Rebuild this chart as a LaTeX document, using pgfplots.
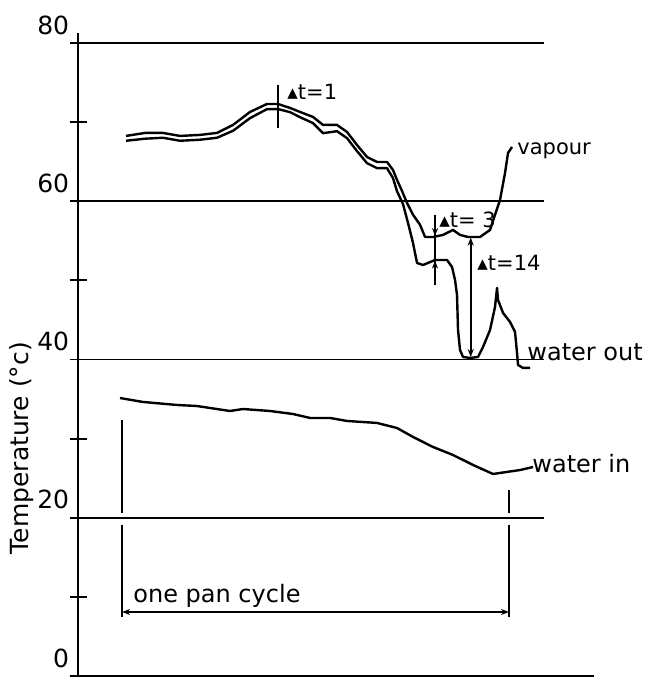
\documentclass[border=0pt]{standalone}
\usepackage{pgfplots}
\pgfplotsset{compat=1.18}
\usepackage{fontspec}
\setmainfont{DejaVu Sans}
\usetikzlibrary{arrows.meta}
\begin{document}
\begin{tikzpicture}
\begin{axis}[
  x=0.5pt, y=3.95625pt,
  xmin=78, xmax=594, ymin=0, ymax=81.3,
  clip=false,
  axis x line*=bottom, axis y line*=left,
  axis line style={line width=0.9pt, black},
  xtick=\empty,
  ytick={0,20,40,60,80},
  minor ytick={10,30,50,70},
  tick align=center,
  major tick length=8.5pt, minor tick length=8.5pt,
  every tick/.style={black, line width=0.9pt},
  /pgf/number format/assume math mode=true,
  yticklabel style={font=\fontsize{12.5}{14}\selectfont, anchor=south east, inner sep=0pt, yshift=4pt},
  ylabel={Temperature (°c)},
  ylabel style={font=\fontsize{12.5}{14}\selectfont, at={(axis description cs:-0.1085,0.354)}, anchor=center},
  cycle list={{black, solid, mark=none}},
]
% horizontal reference lines
\addplot[black, line width=0.9pt] coordinates {(78,80) (544,80)};
\addplot[black, line width=0.9pt] coordinates {(78,60) (544,60)};
\addplot[black, line width=0.9pt] coordinates {(78,40) (544,40)};
\addplot[black, line width=0.9pt] coordinates {(78,20) (544,20)};
% vapour
\addplot[black, line width=1.2pt, mark=none, line join=round] coordinates {
(126,68.25) (145,68.63) (163,68.63) (180,68.25) (200,68.38) (217,68.63)
(233,69.64) (250,71.28) (267,72.29) (278,72.29) (290,71.79) (300,71.28)
(313,70.65) (323,69.64) (337,69.64) (347,68.75) (357,67.11) (367,65.59)
(377,64.96) (387,64.96) (393,63.95) (397,62.69) (402,61.3) (407,59.78)
(413,58.29) (420,57.03) (425,55.48) (433,55.48) (443,55.74) (453,56.37)
(460,55.74) (468,55.48) (480,55.48) (490,56.37) (495,58.29) (500,60.16)
(505,63.57) (508,66.1) (512,66.86)
};
% water out
\addplot[black, line width=1.2pt, mark=none, line join=round] coordinates {
(126,67.64) (145,67.9) (163,68.02) (180,67.64) (200,67.77) (217,68.02)
(233,68.9) (250,70.5) (267,71.64) (278,71.64) (290,71.26) (300,70.62)
(313,69.87) (323,68.6) (337,68.85) (347,67.97) (357,66.33) (367,64.81)
(377,64.18) (387,64.18) (393,62.91) (397,61.27) (403,59.63) (408,57.25)
(413,54.72) (417,52.20) (423,51.94) (435,52.57) (447,52.57) (452,51.69)
(455,50.05) (457,48.15) (458,43.73) (460,41.20) (463,40.32) (470,40.19)
(478,40.32) (483,41.58) (490,43.73) (495,46.64) (497,49.04) (498,47.52)
(503,45.88) (510,44.74) (515,43.48) (517,40.82) (518,39.31) (523,38.93)
(530,38.93)
};
% water in
\addplot[black, line width=1.2pt, mark=none, line join=round] coordinates {
(120,35.13) (143,34.63) (177,34.25) (197,34.12) (210,33.87) (230,33.49)
(243,33.74) (270,33.49) (293,33.11) (310,32.61) (330,32.61) (347,32.23)
(377,31.98) (397,31.34) (413,30.21) (433,28.94) (453,27.93) (473,26.67)
(493,25.53) (500,25.66) (520,26.03) (533,26.41)
};
% delta t markers
\addplot[black, line width=0.9pt] coordinates {(278,74.7) (278,69.3)};
\addplot[black, line width=0.9pt] coordinates {(435,58.3) (435,49.4)};
\addplot[black, line width=0.9pt, -{Stealth[length=4pt,width=3pt]}] coordinates {(435,58.3) (435,55.6)};
\addplot[black, line width=0.9pt, -{Stealth[length=4pt,width=3pt]}] coordinates {(435,49.4) (435,52.5)};
\addplot[black, line width=0.9pt, {Stealth[length=4pt,width=3pt]}-{Stealth[length=4pt,width=3pt]}] coordinates {(470.7,40.3) (470.7,55.4)};
% one pan cycle dimension
\addplot[black, line width=0.9pt] coordinates {(122,32.35) (122,20.6)};
\addplot[black, line width=0.9pt] coordinates {(122,19.1) (122,7.46)};
\addplot[black, line width=0.9pt] coordinates {(509,23.5) (509,20.6)};
\addplot[black, line width=0.9pt] coordinates {(509,19.1) (509,7.46)};
\addplot[black, line width=0.9pt, {Stealth[length=4pt,width=3pt]}-{Stealth[length=4pt,width=3pt]}] coordinates {(122,8.09) (509,8.09)};
% labels
\node[anchor=west, inner sep=0pt, font=\fontsize{10.5}{12}\selectfont] at (axis cs:287,73.8) {▴t=1};
\node[anchor=west, inner sep=0pt, font=\fontsize{10.5}{12}\selectfont] at (axis cs:439,57.6) {▴t= 3};
\node[anchor=west, inner sep=0pt, font=\fontsize{10.5}{12}\selectfont] at (axis cs:477,52.2) {▴t=14};
\node[anchor=base west, inner sep=0pt, font=\fontsize{10.5}{12}\selectfont] at (axis cs:517,65.85) {vapour};
\node[anchor=base west, inner sep=0pt, font=\fontsize{12}{14}\selectfont] at (axis cs:527,39.9) {water out};
\node[anchor=base west, inner sep=0pt, font=\fontsize{12}{14}\selectfont] at (axis cs:532,25.66) {water in};
\node[anchor=base west, inner sep=0pt, font=\fontsize{12}{14}\selectfont] at (axis cs:133,9.35) {one pan cycle};
\coordinate (BL) at (axis cs:0,-0.126);
\coordinate (TR) at (axis cs:645,85.43);
\end{axis}
\pgfresetboundingbox
\path[use as bounding box] (BL) rectangle (TR);
\end{tikzpicture}
\end{document}
